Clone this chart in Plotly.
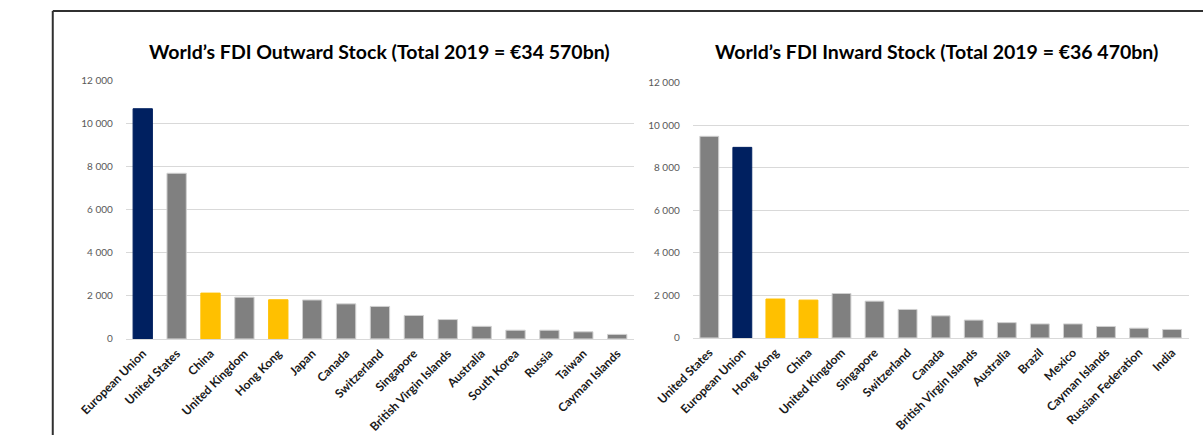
import plotly.graph_objects as go

out_countries = ["European Union", "United States", "China", "United Kingdom", "Hong Kong",
                 "Japan", "Canada", "Switzerland", "Singapore", "British Virgin Islands",
                 "Australia", "South Korea", "Russia", "Taiwan", "Cayman Islands"]
out_values = [10700, 7700, 2130, 1940, 1820, 1810, 1630, 1510, 1090, 900, 585, 405, 405, 330, 210]
out_colors = ["#002060", "#808080", "#FFC000", "#808080", "#FFC000"] + ["#808080"] * 10

in_countries = ["United States", "European Union", "Hong Kong", "China", "United Kingdom",
                "Singapore", "Switzerland", "Canada", "British Virgin Islands", "Australia",
                "Brazil", "Mexico", "Cayman Islands", "Russian Federation", "India"]
in_values = [9480, 8960, 1830, 1780, 2090, 1730, 1340, 1040, 840, 720, 660, 660, 540, 460, 400]
in_colors = ["#808080", "#002060", "#FFC000", "#FFC000"] + ["#808080"] * 11

out_title = "World’s FDI Outward Stock (Total 2019 = €34 570bn)"
in_title = "World’s FDI Inward Stock (Total 2019 = €36 470bn)"
y_ticks = [0, 2000, 4000, 6000, 8000, 10000, 12000]
y_tick_labels = ["0", "2 000", "4 000", "6 000", "8 000", "10 000", "12 000"]

def line_colors(colors):
    return ["#d0d0d0" if c == "#808080" else c for c in colors]

fig = go.Figure()
fig.add_trace(go.Bar(x=out_countries, y=out_values, marker_color=out_colors,
                     marker_line=dict(color=line_colors(out_colors), width=1),
                     xaxis="x", yaxis="y", showlegend=False))
fig.add_trace(go.Bar(x=in_countries, y=in_values, marker_color=in_colors,
                     marker_line=dict(color=line_colors(in_colors), width=1),
                     xaxis="x2", yaxis="y2", showlegend=False))

xcommon = dict(tickangle=-45, showgrid=False, showline=True, linecolor="#d9d9d9", linewidth=1,
               ticks="", tickfont=dict(family="Lato", size=12, color="#1a1a1a", weight="bold"),
               ticklabelstandoff=2, fixedrange=True)
ycommon = dict(range=[0, 12000], tickvals=y_ticks, ticktext=y_tick_labels, showgrid=True,
               gridcolor="#d9d9d9", gridwidth=1, zeroline=False, showline=False,
               tickfont=dict(family="Lato", size=10, color="#595959"), ticks="",
               ticklabelstandoff=12, fixedrange=True)

fig.update_layout(
    width=1203, height=441, margin=dict(l=0, r=0, t=0, b=0, pad=0), autosize=False,
    paper_bgcolor="white", plot_bgcolor="white", bargap=0.43,
    xaxis=dict(domain=[82/1203, 611/1203], anchor="y", **xcommon),
    yaxis=dict(domain=[(441-342)/441, (441-76)/441], anchor="x", **ycommon),
    xaxis2=dict(domain=[672/1203, 1188/1203], anchor="y2", **xcommon),
    yaxis2=dict(domain=[(441-341)/441, (441-78)/441], anchor="x2", **ycommon),
    annotations=[
        dict(text=out_title, x=346/1203, y=(441-46)/441, xref="paper", yref="paper",
             xanchor="center", yanchor="middle", showarrow=False,
             font=dict(family="Lato", size=19.5, color="#000000", weight="bold")),
        dict(text=in_title, x=926/1203, y=(441-46)/441, xref="paper", yref="paper",
             xanchor="center", yanchor="middle", showarrow=False,
             font=dict(family="Lato", size=19.5, color="#000000", weight="bold")),
    ],
    shapes=[
        dict(type="line", xref="paper", yref="paper", x0=6/1203, x1=1, y0=(441-4)/441, y1=(441-4)/441,
             line=dict(color="#303030", width=2)),
        dict(type="line", xref="paper", yref="paper", x0=6/1203, x1=6/1203, y0=0, y1=(441-4)/441,
             line=dict(color="#303030", width=2)),
    ],
)

fig.write_html("out.html", config={"displayModeBar": False})
